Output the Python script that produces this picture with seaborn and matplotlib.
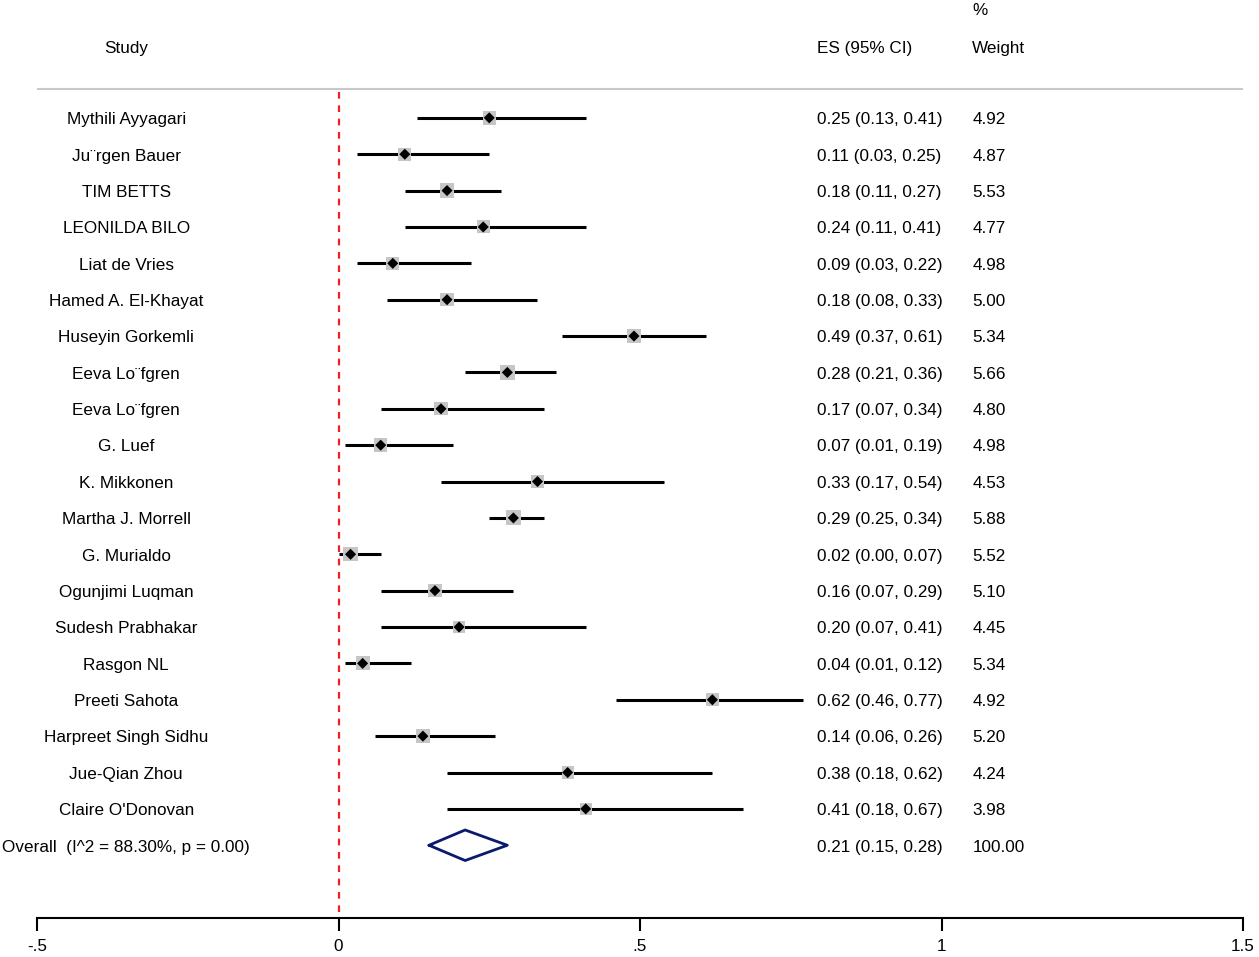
import numpy as np
import pandas as pd
import matplotlib
matplotlib.use("Agg")
import matplotlib.pyplot as plt
import seaborn as sns

# data
studies = ["Mythili Ayyagari", "Ju\u00a8rgen Bauer", "TIM BETTS", "LEONILDA BILO",
           "Liat de Vries", "Hamed A. El-Khayat", "Huseyin Gorkemli",
           "Eeva Lo\u00a8fgren", "Eeva Lo\u00a8fgren", "G. Luef", "K. Mikkonen",
           "Martha J. Morrell", "G. Murialdo", "Ogunjimi Luqman", "Sudesh Prabhakar",
           "Rasgon NL", "Preeti Sahota", "Harpreet Singh Sidhu", "Jue-Qian Zhou",
           "Claire O'Donovan"]
es = [0.25, 0.11, 0.18, 0.24, 0.09, 0.18, 0.49, 0.28, 0.17, 0.07,
      0.33, 0.29, 0.02, 0.16, 0.20, 0.04, 0.62, 0.14, 0.38, 0.41]
lo = [0.13, 0.03, 0.11, 0.11, 0.03, 0.08, 0.37, 0.21, 0.07, 0.01,
      0.17, 0.25, 0.00, 0.07, 0.07, 0.01, 0.46, 0.06, 0.18, 0.18]
hi = [0.41, 0.25, 0.27, 0.41, 0.22, 0.33, 0.61, 0.36, 0.34, 0.19,
      0.54, 0.34, 0.07, 0.29, 0.41, 0.12, 0.77, 0.26, 0.62, 0.67]
weights = [4.92, 4.87, 5.53, 4.77, 4.98, 5.00, 5.34, 5.66, 4.80, 4.98,
           4.53, 5.88, 5.52, 5.10, 4.45, 5.34, 4.92, 5.20, 4.24, 3.98]

overall_label = "Overall  (I^2 = 88.30%, p = 0.00)"
overall_es, overall_lo, overall_hi = 0.21, 0.15, 0.28
overall_weight = 100.00

xticks = [-0.5, 0, 0.5, 1, 1.5]
xticklabels = ["-.5", "0", ".5", "1", "1.5"]

df = pd.DataFrame({"study": studies, "es": es, "lo": lo, "hi": hi, "w": weights})
df["row"] = np.arange(len(df))
overall_row = len(df)

sns.set_style("white")
plt.rcParams["font.family"] = ["Liberation Sans", "DejaVu Sans"]
plt.rcParams["text.color"] = "black"
plt.rcParams["xtick.color"] = "black"

fig = plt.figure(figsize=(12.59, 9.57), dpi=100)
ax = fig.add_axes([37 / 1259, 1 - 918 / 957, (1243 - 37) / 1259, 918 / 957])

# confidence intervals
ax.hlines(df["row"], df["lo"], df["hi"], color="black", lw=2.2, zorder=2)

# weight boxes (area proportional to weight)
sns.scatterplot(data=df, x="es", y="row", size="w", sizes=(70, 115),
                marker="s", color="#c6c6c6", edgecolor="none", legend=False,
                ax=ax, zorder=3)
# point estimates
sns.scatterplot(data=df, x="es", y="row", marker="D", s=32, color="black",
                edgecolor="none", legend=False, ax=ax, zorder=4)

# overall diamond
dh = 0.42
ax.plot([overall_lo, overall_es, overall_hi, overall_es, overall_lo],
        [overall_row, overall_row - dh, overall_row, overall_row + dh, overall_row],
        color="#0b1a6e", lw=2, zorder=4)

# null line
ax.plot([0, 0], [-0.72, 22], color="#ee2222", lw=1.6, ls=(0, (3, 3)), zorder=1)

# header separator
ax.axhline(-0.8, color="#c8c8c8", lw=1.5)

fs = 12.3
x_study = -0.352
x_es = 0.794
x_w = 1.051
dy = 0.05
for _, r in df.iterrows():
    ax.text(x_study, r["row"] + dy, r["study"], ha="center", va="center", fontsize=fs, clip_on=False)
    ax.text(x_es, r["row"] + dy, f"{r['es']:.2f} ({r['lo']:.2f}, {r['hi']:.2f})",
            ha="left", va="center", fontsize=fs)
    ax.text(x_w, r["row"] + dy, f"{r['w']:.2f}", ha="left", va="center", fontsize=fs)

ax.text(x_study, overall_row + dy, overall_label, ha="center", va="center", fontsize=fs, clip_on=False)
ax.text(x_es, overall_row + dy, f"{overall_es:.2f} ({overall_lo:.2f}, {overall_hi:.2f})",
        ha="left", va="center", fontsize=fs)
ax.text(x_w, overall_row + dy, f"{overall_weight:.2f}", ha="left", va="center", fontsize=fs)

# headers
ax.text(x_study, -1.92, "Study", ha="center", va="center", fontsize=fs)
ax.text(x_es, -1.92, "ES (95% CI)", ha="left", va="center", fontsize=fs)
ax.text(x_w, -1.92, "Weight", ha="left", va="center", fontsize=fs)
ax.text(x_w, -2.94, "%", ha="left", va="center", fontsize=fs)

ax.set_xlim(-0.5, 1.5)
ax.set_ylim(22, -3.24)
ax.set_xticks(xticks)
ax.set_xticklabels(xticklabels, fontsize=fs)
ax.set_yticks([])
ax.set_xlabel("")
ax.set_ylabel("")
for s in ["top", "left", "right"]:
    ax.spines[s].set_visible(False)
ax.spines["bottom"].set_linewidth(1.5)
ax.spines["bottom"].set_color("black")
ax.tick_params(axis="x", direction="out", length=9, width=1.5, color="black", pad=6, bottom=True)

fig.savefig("out.png", dpi=100)
